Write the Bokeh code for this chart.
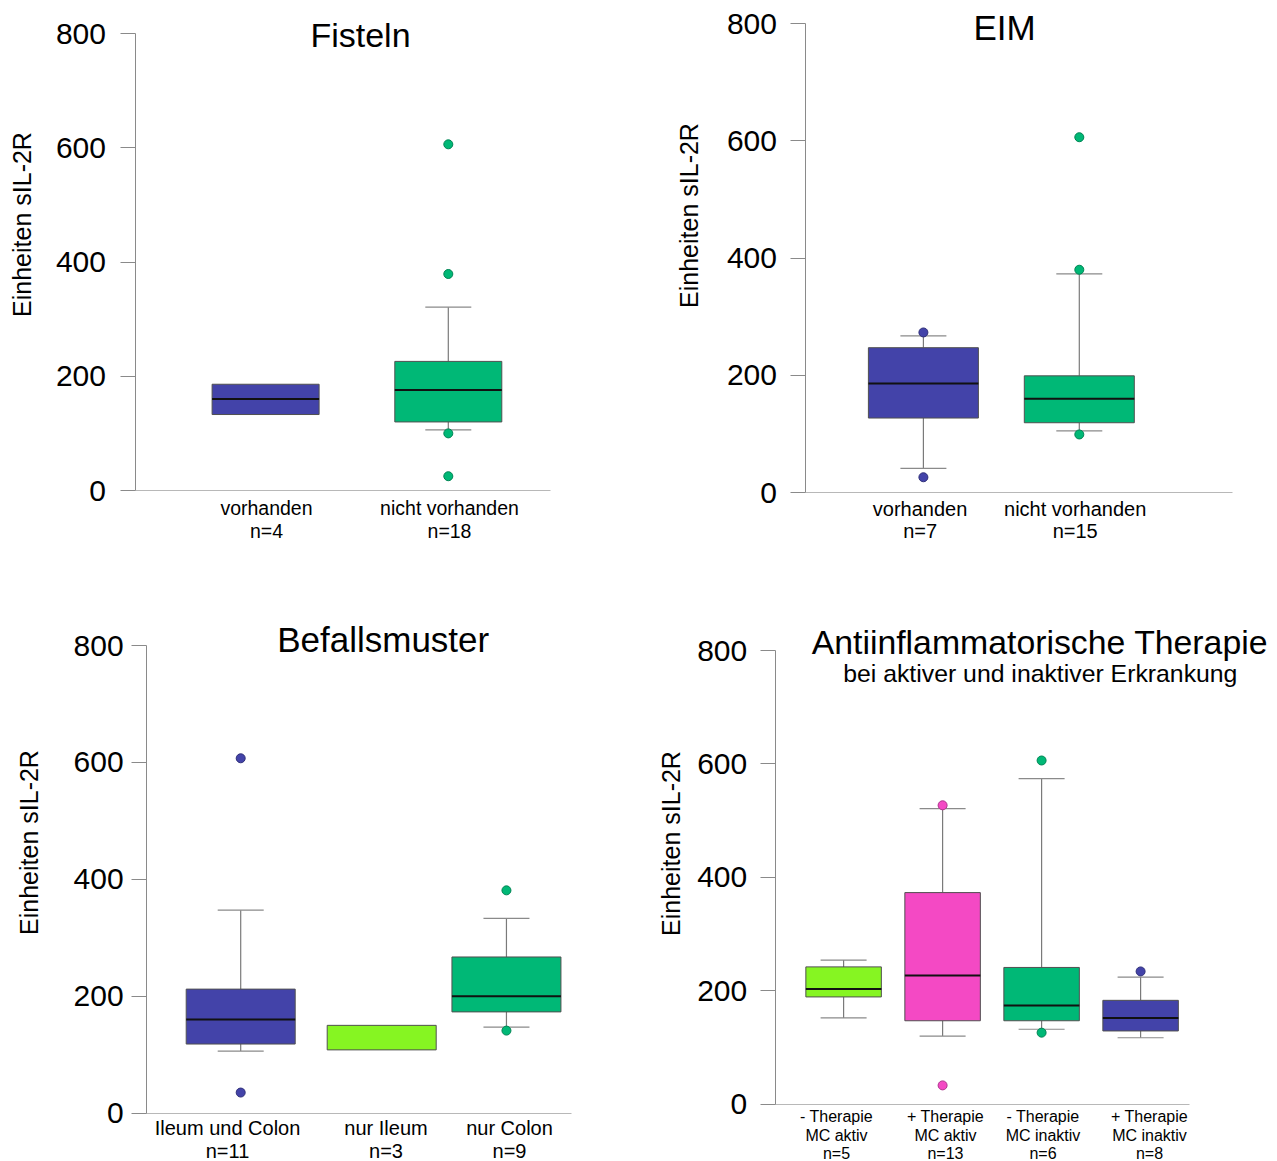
import math
from bokeh.plotting import figure
from bokeh.layouts import column, row
from bokeh.models import Range1d, FixedTicker, Label
from bokeh.embed import file_html
from bokeh.resources import INLINE

FONT = "Liberation Sans"
BLUE = "#4343A9"
GREEN = "#00B876"
LIME = "#86F522"
PINK = "#F449C4"

# ---------------- data ----------------
fis_cats = ["vorhanden", "nicht vorhanden"]
fis_n = [4, 18]
fis_q1 = [133, 120]
fis_med = [160, 176]
fis_q3 = [186, 226]
fis_wlo = [None, 106]
fis_whi = [None, 321]
fis_out = [[], [606, 379, 100, 25]]
fis_colors = [BLUE, GREEN]

eim_cats = ["vorhanden", "nicht vorhanden"]
eim_n = [7, 15]
eim_q1 = [127, 119]
eim_med = [186, 160]
eim_q3 = [247, 199]
eim_wlo = [41, 105]
eim_whi = [267, 373]
eim_out = [[273, 26], [606, 380, 99]]
eim_colors = [BLUE, GREEN]

bef_cats = ["Ileum und Colon", "nur Ileum", "nur Colon"]
bef_n = [11, 3, 9]
bef_q1 = [118, 108, 173]
bef_med = [160, None, 200]
bef_q3 = [212, 150, 267]
bef_wlo = [106, None, 147]
bef_whi = [347, None, 333]
bef_out = [[607, 35], [], [381, 141]]
bef_colors = [BLUE, LIME, GREEN]

ther_cats = ["- Therapie\nMC aktiv", "+ Therapie\nMC aktiv",
             "- Therapie\nMC inaktiv", "+ Therapie\nMC inaktiv"]
ther_n = [5, 13, 6, 8]
ther_q1 = [189, 147, 147, 129]
ther_med = [203, 227, 174, 152]
ther_q3 = [242, 373, 241, 183]
ther_wlo = [152, 120, 132, 117]
ther_whi = [254, 521, 574, 224]
ther_out = [[], [527, 33], [606, 126], [234]]
ther_colors = [LIME, PINK, GREEN, BLUE]

y_ticks = [0, 200, 400, 600, 800]
y_label = "Einheiten sIL-2R"


def darker(hexcol, f=0.72):
    r, g, b = int(hexcol[1:3], 16), int(hexcol[3:5], 16), int(hexcol[5:7], 16)
    return "#%02x%02x%02x" % (int(r * f), int(g * f), int(b * f))


def make_panel(cats, ns, q1, med, q3, wlo, whi, outs, colors, L):
    W, H = L["W"], L["H"]
    pos = L["pos"]
    sp = L["sp"]

    def xd(px):
        return pos[0] + (px - L["c0"]) / sp

    def yd(py):
        return 800.0 * (L["y0"] - py) / (L["y0"] - L["y800"])

    p = figure(width=W, height=H, output_backend="svg", toolbar_location=None,
               x_range=Range1d(xd(0), xd(W)), y_range=Range1d(yd(H), yd(0)),
               min_border=0, min_border_left=0, min_border_right=0,
               min_border_top=0, min_border_bottom=0)
    p.outline_line_color = None
    p.xgrid.grid_line_color = None
    p.ygrid.grid_line_color = None
    p.background_fill_color = "white"
    p.border_fill_color = "white"
    bw = L["bw"] / sp
    cw = 46.0 / sp
    # whiskers
    for i in range(len(cats)):
        if whi[i] is not None:
            p.segment(x0=[pos[i], pos[i]], x1=[pos[i], pos[i]], y0=[q3[i], q1[i]], y1=[whi[i], wlo[i]],
                      line_color="#7a7a7a", line_width=1.2)
            p.segment(x0=[pos[i] - cw / 2] * 2, x1=[pos[i] + cw / 2] * 2, y0=[whi[i], wlo[i]],
                      y1=[whi[i], wlo[i]], line_color="#8a8a8a", line_width=1.2)
    p.vbar(x=pos, width=bw, bottom=q1, top=q3, fill_color=colors, line_color="#505050", line_width=1)
    for i in range(len(cats)):
        if med[i] is not None:
            p.segment(x0=[pos[i] - bw / 2], x1=[pos[i] + bw / 2], y0=[med[i]], y1=[med[i]],
                      line_color="#111111", line_width=2)
        if outs[i]:
            p.scatter(x=[pos[i]] * len(outs[i]), y=outs[i], size=9, fill_color=colors[i],
                      line_color=darker(colors[i]), line_width=1)
    # y axis
    ya = p.yaxis[0]
    ya.fixed_location = xd(L["ax"])
    ya.bounds = (0, 800)
    ya.ticker = FixedTicker(ticks=y_ticks)
    ya.minor_tick_line_color = None
    ya.major_tick_out = 15
    ya.major_tick_in = 0
    ya.axis_line_color = "#8a8a8a"
    ya.major_tick_line_color = "#8a8a8a"
    ya.major_label_text_font = FONT
    ya.major_label_text_font_size = "30px"
    ya.major_label_text_color = "black"
    ya.major_label_standoff = int(L["ls"])
    # x axis (category labels, positioned as in the original)
    lab = [xd(px) for px in L["lab"]]
    xa = p.xaxis[0]
    xa.fixed_location = 0
    xa.bounds = (xd(L["ax"]), xd(L["xe"]))
    xa.ticker = FixedTicker(ticks=lab)
    xa.major_label_overrides = {lab[i]: "%s\nn=%d" % (cats[i], ns[i]) for i in range(len(cats))}
    xa.major_tick_line_color = None
    xa.minor_tick_line_color = None
    xa.major_tick_out = 0
    xa.major_tick_in = 0
    xa.axis_line_color = "#b8b8b8"
    xa.major_label_text_font = FONT
    xa.major_label_text_font_size = L["cf"]
    xa.major_label_text_color = "black"
    xa.major_label_standoff = int(L["xs"])
    xa.major_label_text_line_height = L["lh"]
    # y axis title
    p.add_layout(Label(x=xd(L["ylx"]), y=yd(L["yly"]), text=y_label, text_font=FONT,
                       text_font_size="25px", angle=math.pi / 2, text_align="center",
                       text_baseline="middle", text_color="black"))
    for (tx, ty, txt, fs) in L["titles"]:
        p.add_layout(Label(x=xd(tx), y=yd(ty), text=txt, text_font=FONT, text_font_size=fs,
                           text_align="center", text_baseline="middle", text_color="black"))
    return p


# layout (pixel positions inside each figure)
L1 = dict(W=640, H=590, ax=134.5, xe=550, c0=265.1, sp=182.7, pos=[1, 2], bw=107, y800=33, y0=490,
          ls=14, cf="19.5px", xs=6, lh=1.05, ylx=21, yly=224, lab=[266, 449],
          titles=[(360, 34.6, "Fisteln", "34px")])
L2 = dict(W=637, H=590, ax=164.5, xe=591.8, c0=282.9, sp=155.9, pos=[1, 2], bw=110, y800=23, y0=492,
          ls=13, cf="20px", xs=5, lh=1.03, ylx=48, yly=215, lab=[279.6, 434.7],
          titles=[(364, 26.8, "EIM", "35px")])
L3 = dict(W=640, H=571, ax=146.1, xe=571.4, c0=240.2, sp=125.0, pos=[1, 2.128, 3.126], bw=109,
          y800=55, y0=522.5, ls=8, cf="20px", xs=4, lh=1.04, ylx=28, yly=252, lab=[227, 385.5, 509],
          titles=[(382.7, 49.3, "Befallsmuster", "35px")])
L4 = dict(W=637, H=571, ax=134.7, xe=549, c0=203.1, sp=99.0, pos=[1, 2, 3, 4], bw=75.5,
          y800=60, y0=513.6, ls=13, cf="16px", xs=4, lh=1.09, ylx=30, yly=253,
          lab=[196, 305, 402.5, 509],
          titles=[(399.4, 51, "Antiinflammatorische Therapie", "33.8px"),
                  (399.8, 83.2, "bei aktiver und inaktiver Erkrankung", "24.8px")])

p1 = make_panel(fis_cats, fis_n, fis_q1, fis_med, fis_q3, fis_wlo, fis_whi, fis_out, fis_colors, L1)
p2 = make_panel(eim_cats, eim_n, eim_q1, eim_med, eim_q3, eim_wlo, eim_whi, eim_out, eim_colors, L2)
p3 = make_panel(bef_cats, bef_n, bef_q1, bef_med, bef_q3, bef_wlo, bef_whi, bef_out, bef_colors, L3)
p4 = make_panel(ther_cats, ther_n, ther_q1, ther_med, ther_q3, ther_wlo, ther_whi, ther_out, ther_colors, L4)

layout = column(row(p1, p2, spacing=0), row(p3, p4, spacing=0), spacing=0)
open("out.html", "w").write(file_html(layout, INLINE))
